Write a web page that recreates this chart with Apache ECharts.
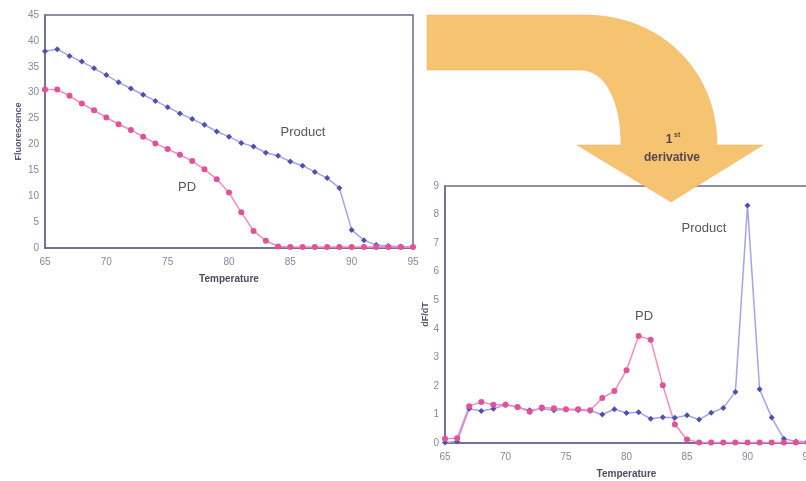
<!DOCTYPE html>
<html>
<head>
<meta charset="utf-8">
<script src="https://cdn.jsdelivr.net/npm/echarts@6/dist/echarts.min.js"></script>
<style>
  html, body { margin: 0; padding: 0; background: #fff; }
  #chart { width: 806px; height: 481px; }
</style>
</head>
<body>
<div id="chart"></div>
<script>
// temperatures (x), shared by both panels
var temps = [65,66,67,68,69,70,71,72,73,74,75,76,77,78,79,80,81,82,83,84,85,86,87,88,89,90,91,92,93,94,95];

// melting curves (fluorescence)
var productFluor = [38.0,38.4,37.1,36.0,34.7,33.4,32.0,30.8,29.6,28.4,27.2,26.0,24.9,23.8,22.5,21.5,20.3,19.6,18.4,17.8,16.7,15.9,14.7,13.5,11.6,3.5,1.5,0.6,0.4,0.3,0.2];
var pdFluor      = [30.6,30.6,29.4,27.9,26.6,25.2,23.9,22.8,21.5,20.2,19.1,18.0,16.8,15.2,13.3,10.7,6.9,3.3,1.4,0.3,0.2,0.2,0.2,0.2,0.2,0.2,0.2,0.2,0.2,0.2,0.2];

// first derivative (dF/dT)
var productDeriv = [0.02,0.05,1.2,1.12,1.2,1.35,1.25,1.15,1.2,1.15,1.17,1.15,1.13,1.0,1.18,1.05,1.08,0.85,0.9,0.88,0.97,0.82,1.06,1.23,1.79,8.32,1.88,0.89,0.15,0.05,0.05];
var pdDeriv      = [0.15,0.17,1.29,1.44,1.34,1.34,1.26,1.09,1.24,1.22,1.18,1.18,1.15,1.58,1.82,2.55,3.75,3.62,2.02,0.65,0.12,0.02,0.02,0.02,0.02,0.02,0.02,0.02,0.02,0.02,0.02];

var fluorTicks = { min: 0, max: 45, interval: 5 };
var derivTicks = { min: 0, max: 9, interval: 1 };
var tempTicks  = { min: 65, max: 95, interval: 5 };

function pairs(ys) {
    return temps.map(function (t, i) { return [t, ys[i]]; });
}

var axisCol = '#6a6a8a';
var labelCol = '#8686a4';
var blueLine = '#a4a4ec', blueDot = '#4f4fae';
var pinkLine = '#f28cc0', pinkDot = '#e2529a';

function xAx(idx) {
    return {
        type: 'value', gridIndex: idx,
        min: tempTicks.min, max: tempTicks.max, interval: tempTicks.interval,
        name: 'Temperature', nameLocation: 'middle', nameGap: 26,
        nameTextStyle: { fontFamily: 'Liberation Sans', fontWeight: 'bold', fontSize: 10, color: '#4e4a62' },
        axisLine: { lineStyle: { color: axisCol, width: 1.5 } },
        axisTick: { show: false },
        splitLine: { show: false },
        axisLabel: { color: labelCol, fontFamily: 'Liberation Sans', fontSize: 10, margin: 9 }
    };
}
function yAx(idx, t, name, gap) {
    return {
        type: 'value', gridIndex: idx,
        min: t.min, max: t.max, interval: t.interval,
        name: name, nameLocation: 'middle', nameGap: gap, nameRotate: 90,
        nameTextStyle: { fontFamily: 'Liberation Sans', fontWeight: 'bold', fontSize: 9, color: '#5a5670' },
        axisLine: { show: true, lineStyle: { color: axisCol, width: 1.5 } },
        axisTick: { show: false },
        splitLine: { show: false },
        axisLabel: { color: labelCol, fontFamily: 'Liberation Sans', fontSize: 10, margin: 6 }
    };
}
function line(name, xi, ys, lc, dc, sym) {
    return {
        name: name, type: 'line', xAxisIndex: xi, yAxisIndex: xi,
        data: pairs(ys),
        symbol: sym, symbolSize: 6,
        lineStyle: { color: lc, width: 1.5 },
        itemStyle: { color: dc },
        animation: false
    };
}

// curved arrow outline, sampled from cubic curves
function bez(p0, p1, p2, p3, n) {
    var out = [];
    for (var i = 1; i <= n; i++) {
        var t = i / n, u = 1 - t;
        out.push([
            u*u*u*p0[0] + 3*u*u*t*p1[0] + 3*u*t*t*p2[0] + t*t*t*p3[0],
            u*u*u*p0[1] + 3*u*u*t*p1[1] + 3*u*t*t*p2[1] + t*t*t*p3[1]
        ]);
    }
    return out;
}
var arrowPts = [[427, 15], [585, 15]]
    .concat(bez([585, 15], [660, 15], [717, 70], [717, 145], 24))
    .concat([[763, 145], [671, 202], [577, 145], [621, 145]])
    .concat(bez([621, 145], [621, 100], [605, 70], [580, 70], 16))
    .concat([[427, 70]]);

var chart = echarts.init(document.getElementById('chart'));
chart.setOption({
    backgroundColor: '#fff',
    animation: false,
    grid: [
        { left: 45, top: 15, width: 368, height: 233, outerBoundsMode: 'none', show: true, borderColor: axisCol, borderWidth: 1.5 },
        { left: 445, top: 186, width: 363, height: 257, outerBoundsMode: 'none', show: true, borderColor: axisCol, borderWidth: 1.5 }
    ],
    xAxis: [xAx(0), xAx(1)],
    yAxis: [yAx(0, fluorTicks, 'Fluorescence', 22), yAx(1, derivTicks, 'dF/dT', 15)],
    series: [
        line('Product', 0, productFluor, blueLine, blueDot, 'diamond'),
        line('PD', 0, pdFluor, pinkLine, pinkDot, 'circle'),
        line('Product', 1, productDeriv, blueLine, blueDot, 'diamond'),
        line('PD', 1, pdDeriv, pinkLine, pinkDot, 'circle')
    ],
    graphic: [
        {
            type: 'polygon', z: 100,
            shape: { points: arrowPts },
            style: { fill: '#f6c470', stroke: '#e8b060', lineWidth: 0.5 }
        },
        { type: 'text', z: 101, x: 669, y: 140, style: { text: '1', fill: '#564650', font: 'bold 12px Liberation Sans', textAlign: 'center', textVerticalAlign: 'middle' } },
        { type: 'text', z: 101, x: 674, y: 135, style: { text: 'st', fill: '#564650', font: 'bold 7px Liberation Sans', textAlign: 'left', textVerticalAlign: 'middle' } },
        { type: 'text', z: 101, x: 672, y: 158, style: { text: 'derivative', fill: '#564650', font: 'bold 12px Liberation Sans', textAlign: 'center', textVerticalAlign: 'middle' } },
        { type: 'text', x: 303, y: 132, style: { text: 'Product', fill: '#555560', font: '13px Liberation Sans', textAlign: 'center', textVerticalAlign: 'middle' } },
        { type: 'text', x: 187, y: 187, style: { text: 'PD', fill: '#555560', font: '13px Liberation Sans', textAlign: 'center', textVerticalAlign: 'middle' } },
        { type: 'text', x: 704, y: 228, style: { text: 'Product', fill: '#555560', font: '13px Liberation Sans', textAlign: 'center', textVerticalAlign: 'middle' } },
        { type: 'text', x: 644, y: 316, style: { text: 'PD', fill: '#555560', font: '13px Liberation Sans', textAlign: 'center', textVerticalAlign: 'middle' } }
    ]
});
</script>
</body>
</html>
